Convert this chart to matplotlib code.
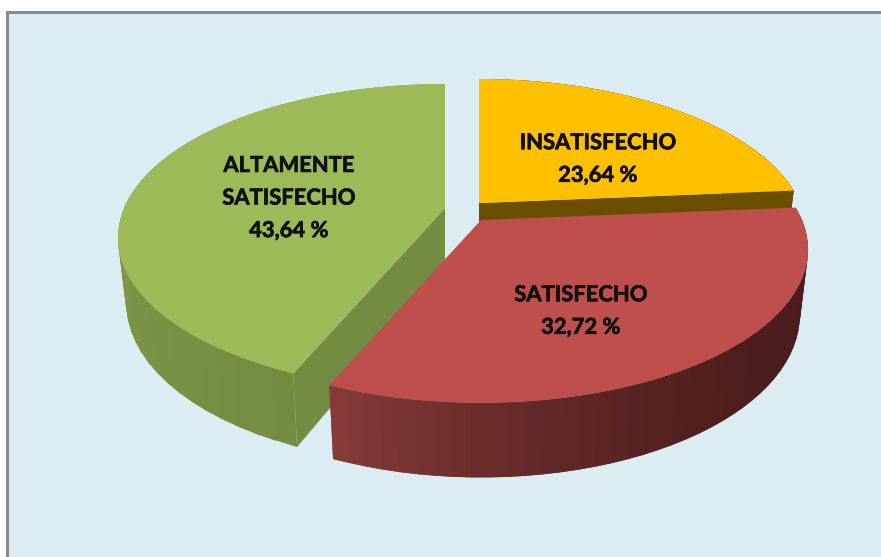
import numpy as np
import matplotlib
matplotlib.use("Agg")
import matplotlib.pyplot as plt
import matplotlib.patheffects as pe
from matplotlib.colors import LinearSegmentedColormap
from matplotlib.patches import Polygon, Rectangle

labels = ["INSATISFECHO", "SATISFECHO", "ALTAMENTE\nSATISFECHO"]
values = [23.64, 32.72, 43.64]
value_text = ["23,64 %", "32,72 %", "43,64 %"]

top_colors = ["#FFC000", "#BE4F4C", "#9BBB59"]
face_colors = ["#6B4F00", "#7B3634", "#738C42"]
wall_colors = [("#8A6800", "#6B4F00"),
               ("#4A1D1C", "#4A1D1C", "#4C1D1C", "#572322", "#692C2B", "#843A37"),
               ("#738C42", "#8FAB53")]
apexes = [(479, 203), (481, 220), (445, 208)]
label_pos = [(598, 159), (581, 311), (289, 198)]
# which cut face looks at the viewer: 0 = start edge, 1 = end edge
visible_faces = [[1], [], [0]]

# perspective of the pie, in pixels
RX = 321.0
RY = 147.8
PERSP = 0.192
DEPTH = 64.0
SHRINK = 0.975


def project(angle, apex, bottom=False):
    """Project clockwise angles (degrees from 12 o'clock) on the pie disc."""
    u = np.sin(np.radians(angle))
    v = np.cos(np.radians(angle))
    w = 1 + PERSP * v
    x = RX * u / w
    y = -RY * v / w
    if bottom:
        return apex[0] + SHRINK * x, apex[1] + SHRINK * y + DEPTH / w
    return apex[0] + x, apex[1] + y


def draw_slice(ax, start, end, apex, top, face, wall, faces, base):
    cmap = LinearSegmentedColormap.from_list("wall", wall)

    # outer wall, cut in strips that overlap so no seams show
    edges = np.linspace(start, end, 45)
    for i in range(len(edges) - 1):
        pair = edges[[i, min(i + 2, len(edges) - 1)]]
        xt, yt = project(pair, apex)
        xb, yb = project(pair, apex, bottom=True)
        pts = np.column_stack([np.r_[xt, xb[::-1]], np.r_[yt, yb[::-1]]])
        ax.add_patch(Polygon(pts, closed=True, fc=cmap(i / (len(edges) - 2)), lw=0, zorder=base + 1))

    # cut faces
    for k in faces:
        ang = (start, end)[k]
        xt, yt = project(ang, apex)
        xb, yb = project(ang, apex, bottom=True)
        ax.add_patch(Polygon([apex, (xt, yt), (xb, yb), (apex[0], apex[1] + DEPTH)],
                             closed=True, fc=face, lw=0, zorder=base + 2))

    # top of the slice
    arc = np.linspace(start, end, 200)
    xt, yt = project(arc, apex)
    pts = np.column_stack([np.r_[apex[0], xt], np.r_[apex[1], yt]])
    ax.add_patch(Polygon(pts, closed=True, fc=top, lw=0, zorder=base + 3))


fig = plt.figure(figsize=(8.81, 5.57), dpi=100, facecolor="white")
ax = fig.add_axes([0, 0, 1, 1])
ax.set_xlim(0, 881)
ax.set_ylim(557, 0)
ax.axis("off")

ax.add_patch(Rectangle((7, 12), 900, 600, fc="#DBEDF3", ec="#8C8C8C", lw=2.2, zorder=0))

limits = np.r_[0, np.cumsum(values)] / np.sum(values) * 360
# yellow, green and red last, as they overlap that way
for order, i in enumerate([0, 2, 1]):
    draw_slice(ax, limits[i], limits[i + 1], apexes[i], top_colors[i], face_colors[i],
               wall_colors[i], visible_faces[i], order * 10)

for lab, val, pos in zip(labels, value_text, label_pos):
    t = ax.text(pos[0], pos[1], lab + "\n" + val, ha="center", va="center", color="#101010",
                fontsize=15.8, fontweight="bold", family="Lato", linespacing=1.68, zorder=60)
    t.set_path_effects([pe.withStroke(linewidth=0.5, foreground="#101010")])

fig.savefig("out.png", dpi=100)
